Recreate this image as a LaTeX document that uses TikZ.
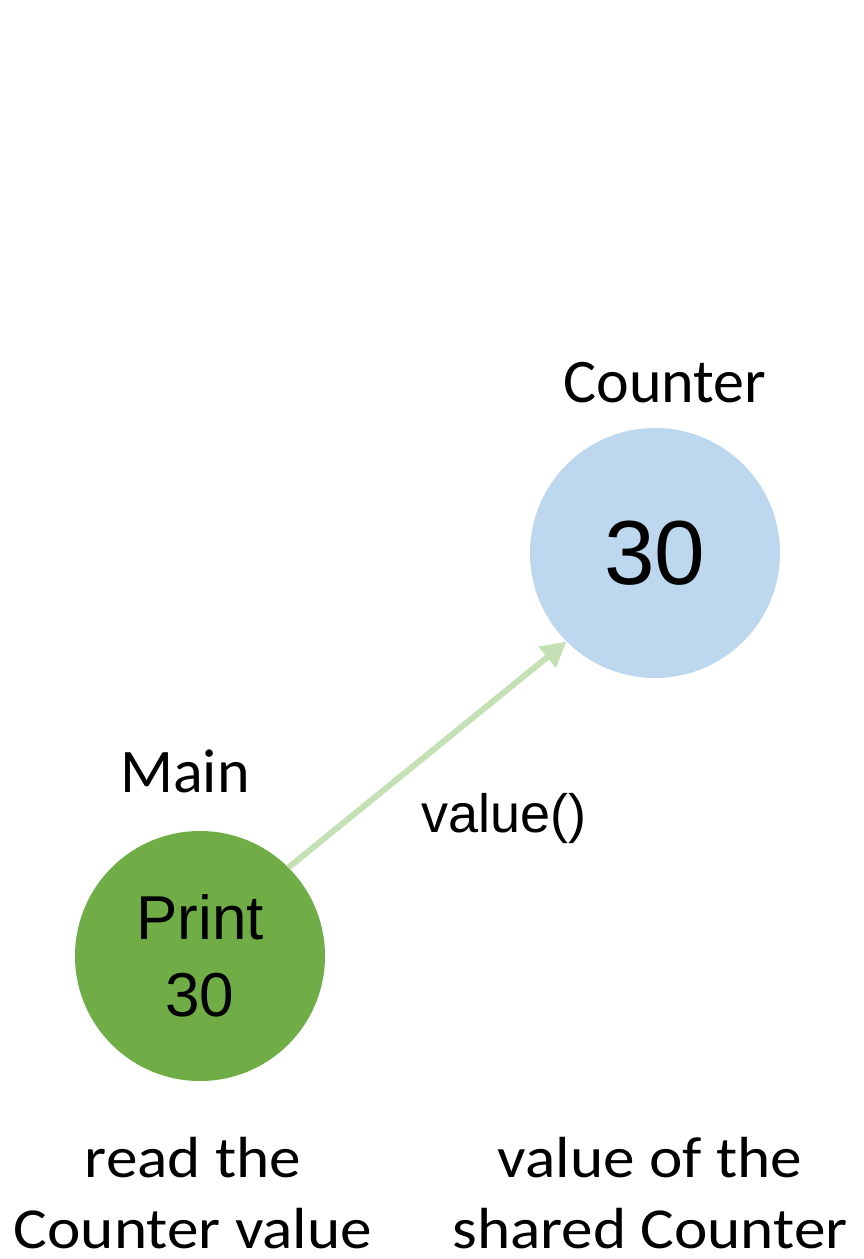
\documentclass[tikz,border=0pt]{standalone}
\usepackage{fontspec}
\setmainfont{Carlito}
\newfontfamily\arialf{Liberation Sans}
\newfontfamily\notef[FakeStretch=1.09]{Carlito}
\usetikzlibrary{arrows.meta}
\definecolor{cblue}{HTML}{BDD7EE}
\definecolor{cgreen}{HTML}{70AD47}
\definecolor{carrow}{HTML}{C5E0B4}
\tikzset{
  ball/.style={circle, minimum size=250pt, inner sep=0pt, draw=none},
  lab/.style={font=\fontsize{62}{74}\selectfont, inner sep=0pt, anchor=base},
  note/.style={font=\notef\fontsize{58}{71}\selectfont, inner sep=0pt, align=center},
  call/.style={draw=carrow, line width=6pt, -{Triangle[length=25pt,width=26pt]}}
}
\begin{document}
\begin{tikzpicture}[x=1pt,y=-1pt]
\fill[white] (0,0) rectangle (864,1259);
\useasboundingbox (0,0) rectangle (864,1259);
\node[ball, fill=cblue, font=\arialf\fontsize{91}{100}\selectfont] (counter) at (655,553) {30};
\node[ball, fill=cgreen, align=center, font=\arialf\fontsize{62}{77}\selectfont] (main) at (200,956) {Print\\30};
\node[lab] (counterlab) at (665,402) {Counter};
\node[lab] (mainlab) at (185,792) {Main};
\node[lab, font=\arialf\fontsize{54}{60}\selectfont] (calllab) at (504,832) {value()};
\draw[call] (main.45) -- (counter.225);
\node[note] (leftnote) at (193,1193) {read the\\Counter value};
\node[note] (rightnote) at (650,1193) {value of the\\shared Counter};
\end{tikzpicture}
\end{document}
